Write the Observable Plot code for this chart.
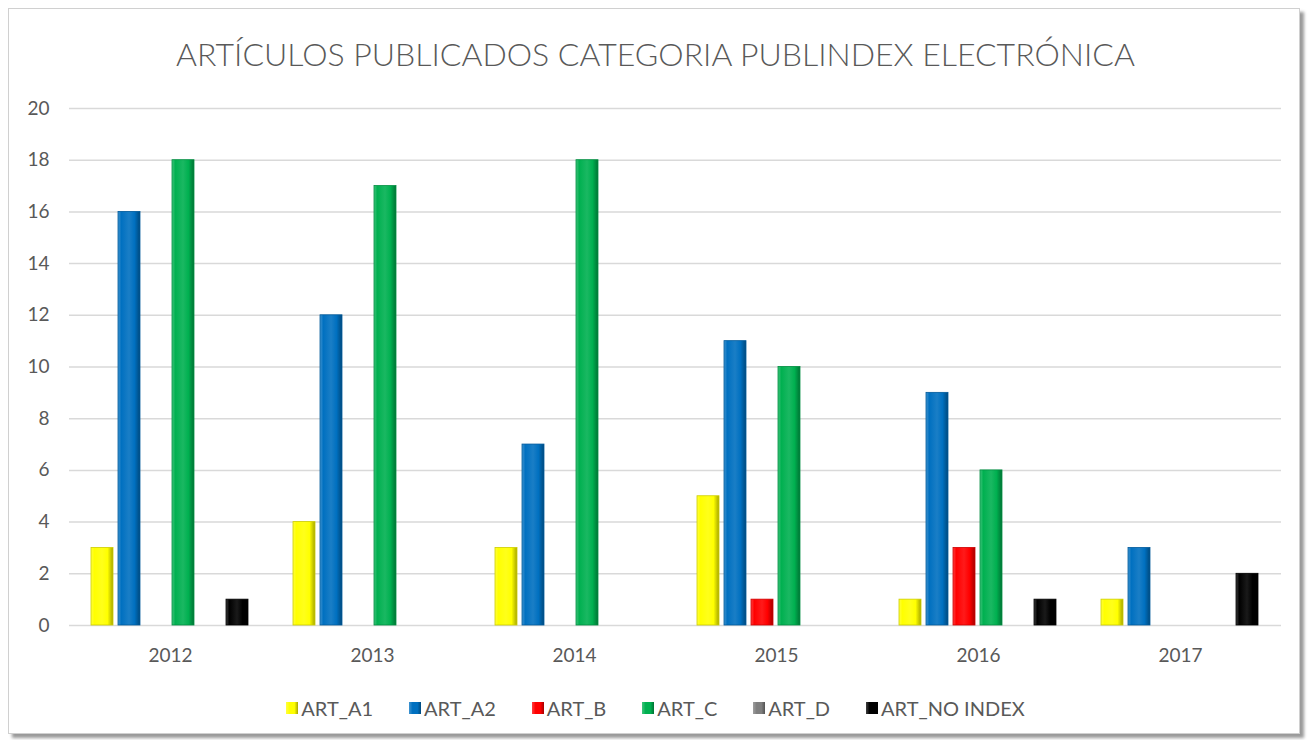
<!DOCTYPE html>
<html>
<head>
<meta charset="utf-8">
<script src="https://cdn.jsdelivr.net/npm/d3@7"></script>
<script src="https://cdn.jsdelivr.net/npm/@observablehq/plot@0.6"></script>
<style>
  body { margin:0; background:#fff; font-family: Lato, "Open Sans", sans-serif; }
  #frame { position:absolute; left:8px; top:8px; width:1290px; height:724px; border:1px solid #d0d0d0; box-shadow: 4px 4px 3px #9a9a9a; background:#fff; }
  #title { position:absolute; left:0; top:34px; width:1311px; text-align:center; font-size:32px; font-weight:300; color:#595959; font-family: Lato, sans-serif; }
  #chart { position:absolute; left:0; top:80px; }
  #legend { position:absolute; left:0; top:696px; width:1311px; display:flex; justify-content:center; gap:36px; font-size:20px; color:#595959; }
  .item { display:flex; align-items:center; gap:3px; }
  .sw { width:12px; height:12px; display:inline-block; }
</style>
</head>
<body>
<div id="frame"></div>
<div id="title">ARTÍCULOS PUBLICADOS CATEGORIA PUBLINDEX ELECTRÓNICA</div>
<div id="chart"></div>
<div id="legend"></div>
<script>
const years = ["2012", "2013", "2014", "2015", "2016", "2017"];
const series = ["ART_A1", "ART_A2", "ART_B", "ART_C", "ART_D", "ART_NO INDEX"];
const artA1 = [3, 4, 3, 5, 1, 1];
const artA2 = [16, 12, 7, 11, 9, 3];
const artB = [0, 0, 0, 1, 3, 0];
const artC = [18, 17, 18, 10, 6, 0];
const artD = [0, 0, 0, 0, 0, 0];
const artNoIndex = [1, 0, 0, 0, 1, 2];
const yTicks = [0, 2, 4, 6, 8, 10, 12, 14, 16, 18, 20];
const colors = ["#FFFF00", "#0070C0", "#FF0000", "#00B050", "#7F7F7F", "#000000"];

const values = [artA1, artA2, artB, artC, artD, artNoIndex];
const data = years.flatMap((yr, i) => series.map((s, j) => ({year: yr, series: s, value: values[j][i], idx: j})));

const barMarks = series.map((s, j) => Plot.barY(data.filter(d => d.series === s && d.value > 0), {
  fx: "year", x: "series", y: "value", fill: `url(#g${j})`, stroke: d3.color(colors[j]).darker(0.6).formatHex(), strokeWidth: 0.8
}));

const chart = Plot.plot({
  width: 1311, height: 600,
  marginTop: 28, marginBottom: 55, marginLeft: 68, marginRight: 29,
  style: {fontFamily: "Lato, sans-serif", color: "#595959", background: "transparent"},
  fx: {domain: years, padding: 0, label: null},
  x: {domain: series, paddingInner: 0.185, paddingOuter: 0.83, axis: null},
  y: {domain: [0, 20], label: null},
  marks: [
    Plot.ruleY(yTicks, {stroke: "#d9d9d9", strokeWidth: 1.5}),
    ...barMarks,
    Plot.axisY({ticks: yTicks, tickSize: 0, tickPadding: 20, fontSize: 19, label: null}),
    Plot.axisFx({anchor: "bottom", tickSize: 0, tickPadding: 23, fontSize: 19, label: null})
  ]
});

// gradient defs for bevel look
const svg = d3.select(chart);
const defs = svg.insert("defs", ":first-child");
colors.forEach((c, j) => {
  const base = d3.color(c);
  const g = defs.append("linearGradient").attr("id", `g${j}`).attr("x1", "0").attr("x2", "1").attr("y1", "0").attr("y2", "0");
  const light = d3.interpolateRgb(c, "#ffffff")(0.25);
  const dark = base.darker(1.2).formatHex();
  [[0, light], [0.15, c], [0.5, d3.interpolateRgb(c, "#ffffff")(0.1)], [0.75, c], [1, dark]].forEach(([o, col]) => {
    g.append("stop").attr("offset", o).attr("stop-color", col);
  });
});
document.getElementById("chart").appendChild(chart);

const legend = document.getElementById("legend");
series.forEach((s, j) => {
  const it = document.createElement("div");
  it.className = "item";
  const sw = document.createElement("span");
  sw.className = "sw";
  sw.style.background = `linear-gradient(90deg, ${d3.interpolateRgb(colors[j], "#fff")(0.25)}, ${colors[j]} 30%, ${colors[j]} 70%, ${d3.color(colors[j]).darker(1.2).formatHex()})`;
  const tx = document.createElement("span");
  tx.textContent = s;
  it.appendChild(sw); it.appendChild(tx);
  legend.appendChild(it);
});
</script>
</body>
</html>
